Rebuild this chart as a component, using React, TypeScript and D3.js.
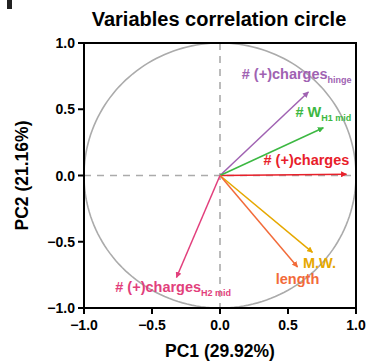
import React from "react";
import * as d3 from "d3";

const variables = ["# (+)charges", "# (+)charges", "# W", "M.W.", "length", "# (+)charges"];
const subscripts = ["hinge", "", "H1 mid", "", "", "H2 mid"];
const pc1 = [0.65, 0.93, 0.76, 0.68, 0.57, -0.32];
const pc2 = [0.63, 0.01, 0.36, -0.58, -0.69, -0.77];
const colors = ["#a062b2", "#e8202a", "#3cb842", "#e6a800", "#f26b3a", "#e23f7c"];
const tickValues = [-1.0, -0.5, 0.0, 0.5, 1.0];
const title = "Variables correlation circle";
const xLabel = "PC1 (29.92%)";
const yLabel = "PC2 (21.16%)";

// label anchor positions (left x, baseline y) in data units
const labelX = [0.16, 0.32, 0.555, 0.61, 0.41, -0.77];
const labelY = [0.73, 0.08, 0.44, -0.70, -0.82, -0.88];

export default function App() {
  const W = 369, H = 363;
  const x = d3.scaleLinear().domain([-1, 1]).range([84, 356]);
  const y = d3.scaleLinear().domain([-1, 1]).range([308, 43]);
  const font = "'Liberation Sans', Arial, Helvetica, sans-serif";
  const circle = d3.range(0, 361, 2).map((a) => [Math.cos((a * Math.PI) / 180), Math.sin((a * Math.PI) / 180)] as [number, number]);
  const line = d3.line<[number, number]>().x((d) => x(d[0])).y((d) => y(d[1]));
  const grayC = "#ababab";
  const fmt = (t: number) => (t === 0 ? "0.0" : d3.format(".1f")(t).replace("-", "\u2212"));
  return (
    <svg width={W} height={H} style={{ position: "absolute", left: 0, top: 0 }} fontFamily={font}>
      <defs>
        {colors.map((c, i) => (
          <marker key={i} id={`ah${i}`} viewBox="0 0 10 10" refX="9" refY="5" markerWidth="4" markerHeight="4" orient="auto">
            <path d="M0,0 L10,5 L0,10 z" fill={c} />
          </marker>
        ))}
      </defs>
      <rect x={7} y={0} width={5} height={9} fill="#222" />
      <text x={219} y={26} textAnchor="middle" fontSize={20} fontWeight="bold">{title}</text>
      <path d={line(circle) || ""} fill="none" stroke={grayC} strokeWidth={1.6} />
      <line x1={x(-1)} x2={x(1)} y1={y(0)} y2={y(0)} stroke={grayC} strokeWidth={1.6} strokeDasharray="7,6" />
      <line x1={x(0)} x2={x(0)} y1={y(1)} y2={y(-1)} stroke={grayC} strokeWidth={1.6} strokeDasharray="7,6" />
      {pc1.map((v, i) => (
        <line key={i} x1={x(0)} y1={y(0)} x2={x(v)} y2={y(pc2[i])} stroke={colors[i]} strokeWidth={1.5} markerEnd={`url(#ah${i})`} />
      ))}
      {variables.map((t, i) => (
        <text key={i} x={x(labelX[i])} y={y(labelY[i])} fill={colors[i]} fontSize={14.5} fontWeight="bold">
          {t}
          {subscripts[i] && (
            <tspan fontSize={9} dy={4}>{subscripts[i]}</tspan>
          )}
        </text>
      ))}
      <rect x={x(-1)} y={y(1)} width={x(1) - x(-1)} height={y(-1) - y(1)} fill="none" stroke="#000" strokeWidth={2} />
      {tickValues.map((t) => (
        <g key={"y" + t}>
          <line x1={x(-1) - 6} x2={x(-1)} y1={y(t)} y2={y(t)} stroke="#000" strokeWidth={2} />
          <text x={x(-1) - 9} y={y(t) + 5} textAnchor="end" fontSize={14} fontWeight="bold">{fmt(t)}</text>
        </g>
      ))}
      {tickValues.map((t) => (
        <g key={"x" + t}>
          <line x1={x(t)} x2={x(t)} y1={y(-1)} y2={y(-1) + 6} stroke="#000" strokeWidth={2} />
          <text x={x(t)} y={y(-1) + 22} textAnchor="middle" fontSize={14} fontWeight="bold">{fmt(t)}</text>
        </g>
      ))}
      <text x={220} y={357} textAnchor="middle" fontSize={17.5} fontWeight="bold">{xLabel}</text>
      <text transform={`translate(28,${y(0)}) rotate(-90)`} textAnchor="middle" fontSize={17.5} fontWeight="bold">{yLabel}</text>
    </svg>
  );
}
